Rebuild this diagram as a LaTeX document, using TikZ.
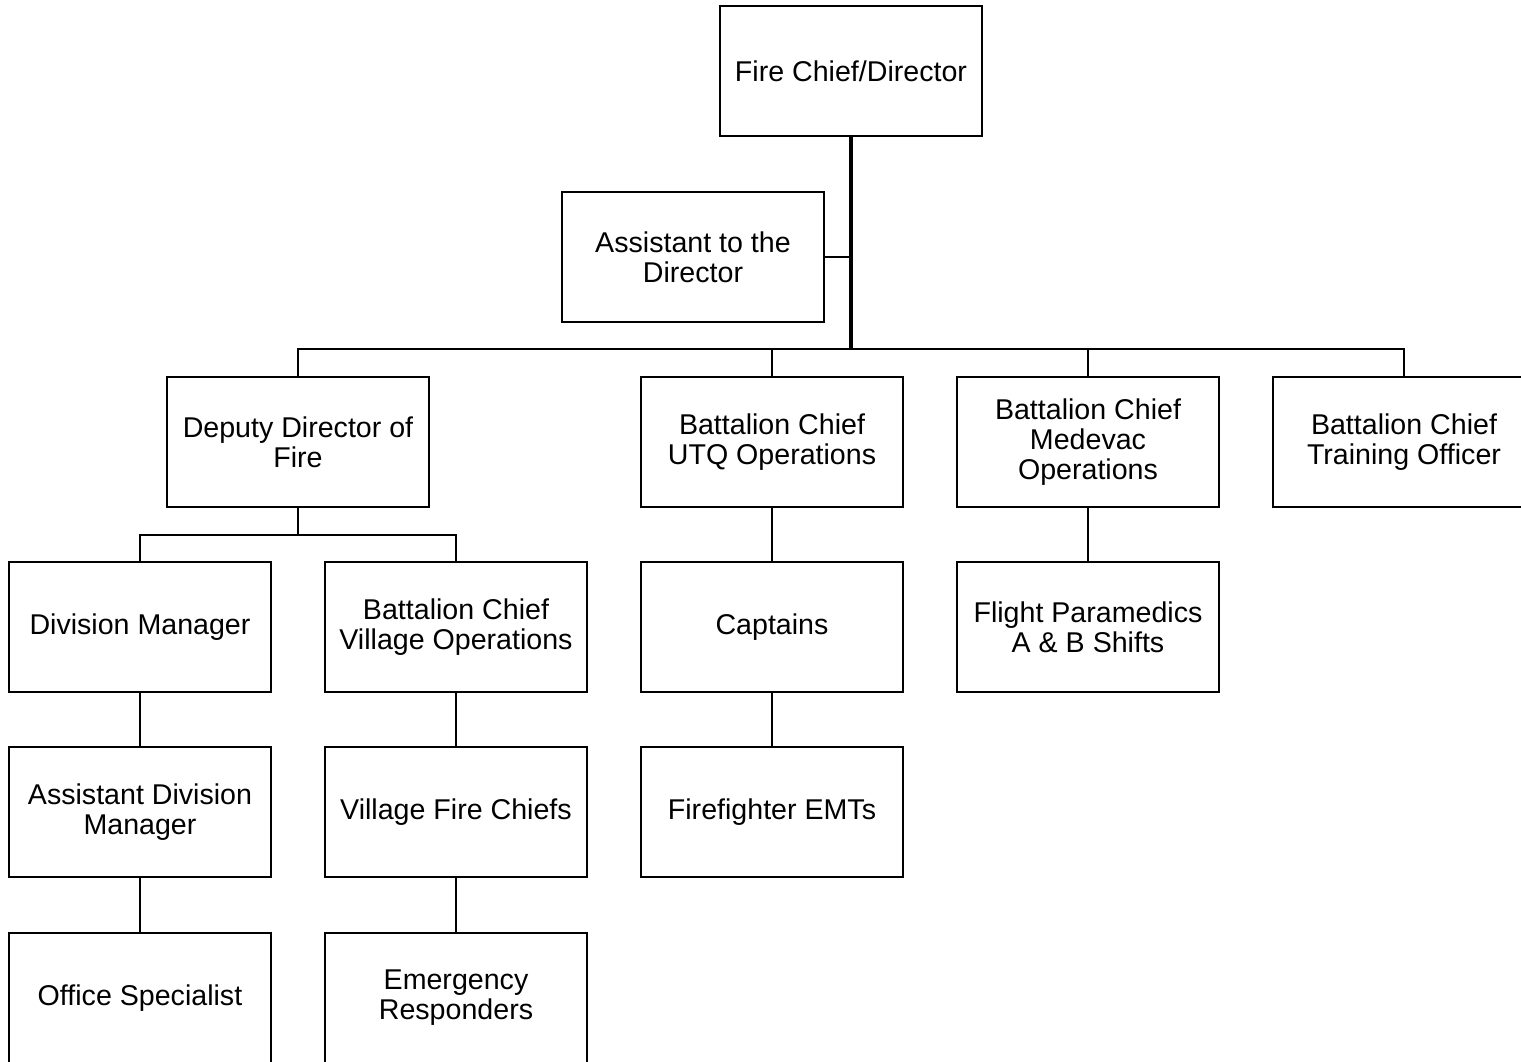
\documentclass[tikz,border=0pt]{standalone}
\usepackage{fontspec}
\setmainfont{Liberation Sans}
\usepackage{tikz}

\begin{document}
\begin{tikzpicture}[x=0.5pt,y=-0.5pt,
	box/.style={draw,line width=1.2pt,minimum width=131pt,minimum height=65pt,
		inner sep=0pt,align=center,font=\fontsize{14.3}{15}\selectfont},
	link/.style={line width=1.1pt},
	spine/.style={line width=1.7pt}]
	\useasboundingbox (0,0) rectangle (1521,1061);  % Page size
	
	% Top level
	\node[box] (chief) at (851,71) {Fire Chief/Director};
	\node[box] (assistant) at (693,257) {Assistant to the\\Director};
	
	% Second level
	\node[box] (deputy) at (298,442) {Deputy Director of\\Fire};
	\node[box] (utq) at (772,442) {Battalion Chief\\UTQ Operations};
	\node[box] (medevac) at (1088,442) {Battalion Chief\\Medevac\\Operations};
	\node[box] (training) at (1404,442) {Battalion Chief\\Training Officer};
	
	% Third level
	\node[box] (divmgr) at (140,627) {Division Manager};
	\node[box] (village) at (456,627) {Battalion Chief\\Village Operations};
	\node[box] (captains) at (772,627) {Captains};
	\node[box] (paramedics) at (1088,627) {Flight Paramedics\\A \& B Shifts};
	
	% Fourth level
	\node[box] (asstdiv) at (140,812) {Assistant Division\\Manager};
	\node[box] (villchiefs) at (456,812) {Village Fire Chiefs};
	\node[box] (firefighters) at (772,812) {Firefighter EMTs};
	
	% Fifth level
	\node[box] (office) at (140,998) {Office Specialist};
	\node[box] (responders) at (456,998) {Emergency\\Responders};
	
	% Connectors from the chief
	\coordinate (bus) at (851,349);  % Main branch point
	\draw[spine] (chief) -- (bus);
	\draw[link] (assistant.east) -- (assistant.east -| chief);
	\draw[link] (deputy.north) |- (bus) -| (training.north);
	\draw[link] (utq.north) -- (utq.north |- bus);
	\draw[link] (medevac.north) -- (medevac.north |- bus);
	
	% Connectors below the deputy
	\coordinate (split) at (298,535);  % Deputy branch point
	\draw[link] (deputy) -- (split);
	\draw[link] (divmgr.north) |- (split) -| (village.north);
	\draw[link] (divmgr) -- (asstdiv);
	\draw[link] (asstdiv) -- (office);
	\draw[link] (village) -- (villchiefs);
	\draw[link] (villchiefs) -- (responders);
	
	% Remaining chains
	\draw[link] (utq) -- (captains);
	\draw[link] (captains) -- (firefighters);
	\draw[link] (medevac) -- (paramedics);
\end{tikzpicture}
\end{document}
